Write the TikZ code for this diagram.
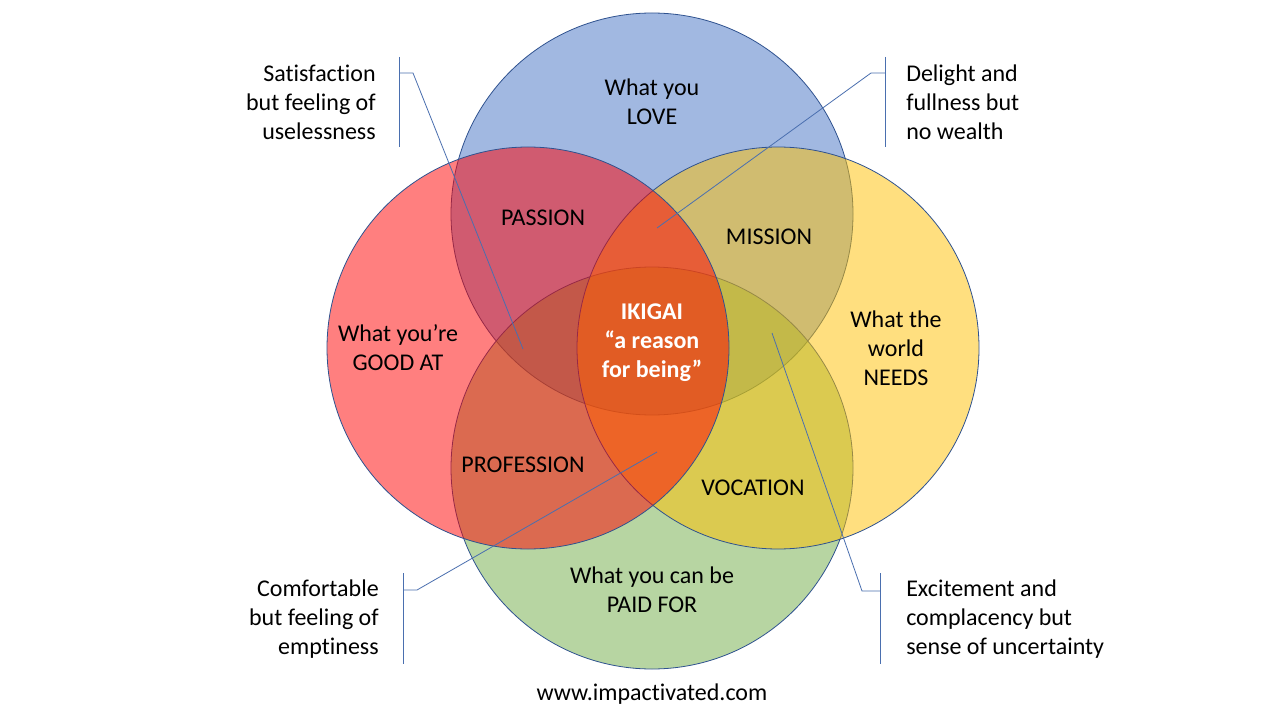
\documentclass[tikz,border=0pt]{standalone}
\usepackage{fontspec}
\setmainfont{Carlito}[Ligatures=NoCommon]
\definecolor{cblue}{HTML}{4472C4}
\definecolor{cred}{HTML}{FF0000}
\definecolor{cgold}{HTML}{FFC000}
\definecolor{cgreen}{HTML}{70AD47}
\definecolor{cline}{HTML}{2F528F}
\definecolor{calline}{HTML}{4A6FAF}
\tikzset{
  venn/.style={circle, minimum size=301.5pt, inner sep=0pt, fill opacity=0.5, draw=cline, draw opacity=1, line width=0.6pt},
  lbl/.style={align=center, font=\fontsize{18}{21.8}\selectfont, text=black, inner sep=0pt},
  lblL/.style={align=left, font=\fontsize{18}{21.8}\selectfont, text=black, inner sep=0pt, anchor=west},
  lblR/.style={align=right, font=\fontsize{18}{21.8}\selectfont, text=black, inner sep=0pt, anchor=east},
  callout/.style={draw=calline, line width=0.6pt},
}
\begin{document}
\begin{tikzpicture}[x=0.75pt,y=-0.75pt]
\useasboundingbox (0,0) rectangle (1280,720);
\fill[white] (0,0) rectangle (1280,720);
% circles
\node[venn, fill=cblue]  (love)  at (652,214) {};
\node[venn, fill=cgreen] (paid)  at (652,468) {};
\node[venn, fill=cgold]  (needs) at (778,348) {};
\node[venn, fill=cred]   (good)  at (528,348) {};
% labels
\node[lbl] (tlove) at (652,102) {What you\\LOVE};
\node[lbl] (tpassion) at (543,218) {PASSION};
\node[lbl] (tmission) at (769,237) {MISSION};
\node[lbl] (tgood) at (398,348) {What you’re\\GOOD AT};
\node[lbl] (tneeds) at (896,348) {What the\\world\\NEEDS};
\node[lbl, text=white, font=\bfseries\fontsize{18}{21.8}\selectfont] (tikigai) at (652,343) {IKIGAI\\“a reason\\for being”};
\node[lbl] (tprof) at (523,465) {PROFESSION};
\node[lbl] (tvoc) at (753,488) {VOCATION};
\node[lbl] (tpaid) at (652,590) {What you can be\\PAID FOR};
\node[lbl] (tweb) at (652,694) {www.impactivated.com};
% callout texts
\node[lblR] (csat) at (376,102) {Satisfaction\\but feeling of\\uselessness};
\node[lblL] (cdel) at (906,102) {Delight and\\fullness but\\no wealth};
\node[lblR] (ccom) at (379,619) {Comfortable\\but feeling of\\emptiness};
\node[lblL] (cexc) at (906,619) {Excitement and\\complacency but\\sense of uncertainty};
% callout brackets
\coordinate (s1) at (399,57);  \coordinate (s2) at (399,147);
\coordinate (sk) at (399,73);  \coordinate (sj) at (413,73); \coordinate (st) at (523,349);
\coordinate (d1) at (885,57);  \coordinate (d2) at (885,147);
\coordinate (dk) at (885,73);  \coordinate (dj) at (871,73); \coordinate (dt) at (657,228);
\coordinate (c1) at (403,573); \coordinate (c2) at (403,664);
\coordinate (ck) at (403,590); \coordinate (cj) at (417,590); \coordinate (ct) at (657,452);
\coordinate (e1) at (880,573); \coordinate (e2) at (880,664);
\coordinate (ek) at (880,591); \coordinate (ej) at (862,591); \coordinate (et) at (772,333);
\draw[callout] (s1) -- (s2); \draw[callout] (sk) -- (sj) -- (st);
\draw[callout] (d1) -- (d2); \draw[callout] (dk) -- (dj) -- (dt);
\draw[callout] (c1) -- (c2); \draw[callout] (ck) -- (cj) -- (ct);
\draw[callout] (e1) -- (e2); \draw[callout] (ek) -- (ej) -- (et);
\end{tikzpicture}
\end{document}
